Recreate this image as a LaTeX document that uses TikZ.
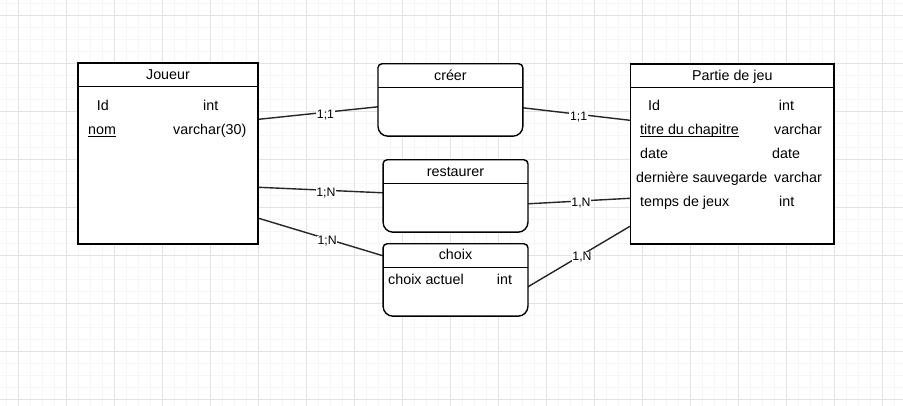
\documentclass[tikz,border=0pt]{standalone}
\usepackage{fontspec}
\setmainfont{Liberation Sans}
\usetikzlibrary{calc}
\newcommand\ulx[1]{\setbox0\hbox{#1}\rlap{\rule[-2.2pt]{\wd0}{0.9pt}}\box0}
\begin{document}
\begin{tikzpicture}[x=1pt,y=-1pt,
  minorgrid/.style={draw=black!3.5, line width=0.8pt},
  majorgrid/.style={draw=black!11, line width=0.9pt},
  entbox/.style={draw=black, line width=1.4pt, fill=white, inner sep=0pt},
  relnode/.style={draw=none, inner sep=0pt, minimum width=144.5pt, minimum height=72pt},
  relbox/.style={draw=black, line width=1.4pt, fill=white},
  hdr/.style={draw=black, line width=1.4pt},
  ttl/.style={anchor=base, inner sep=0pt, font=\fontsize{14.3}{17}\selectfont},
  fld/.style={anchor=base west, inner sep=0pt, font=\fontsize{14.3}{17}\selectfont},
  conn/.style={draw=black!85, line width=1.4pt},
  lbl/.style={fill=white, inner sep=0.6pt, font=\fontsize{12.3}{12}\selectfont, yshift=-2.5pt}
]
\useasboundingbox (0,0) rectangle (903,406);
\fill[white] (0,0) rectangle (903,406);
% grid
\foreach \x in {6,18,...,903} \draw[minorgrid] (\x,0) -- (\x,406);
\foreach \y in {3,15,...,406} \draw[minorgrid] (0,\y) -- (903,\y);
\foreach \x in {18,66,...,903} \draw[majorgrid] (\x,0) -- (\x,406);
\foreach \y in {15,63,...,406} \draw[majorgrid] (0,\y) -- (903,\y);

% relation nodes (outlines drawn below)
\node[relnode] (creer) at (450.4,100) {};
\node[relnode] (rest) at (455.5,196) {};
\node[relnode] (choix) at (455.5,280) {};

% entities
\node[entbox, minimum width=180pt, minimum height=181pt] (joueur) at (168,153.5) {};
\node[entbox, minimum width=203.3pt, minimum height=180pt] (partie) at (732.35,154) {};

% connectors
\draw[conn] ($(joueur.north east)+(0,57)$) -- node[lbl, pos=0.56] (l1) {1;1} ($(creer.north west)+(0,43)$);
\draw[conn] ($(creer.north east)+(0,44)$) -- node[lbl, pos=0.52] (l2) {1;1} ($(partie.north west)+(0,57)$);
\draw[conn] ($(joueur.north east)+(0,125)$) -- node[lbl, pos=0.54] (l3) {1;N} ($(rest.north west)+(0,33)$);
\draw[conn] ($(rest.north east)+(0,44)$) -- node[lbl, pos=0.52] (l4) {1,N} ($(partie.north west)+(0,135)$);
\draw[conn] ($(joueur.north east)+(0,156)$) -- node[lbl, pos=0.55] (l5) {1;N} ($(choix.north west)+(0,12)$);
\draw[conn] ($(choix.north east)+(0,43)$) -- node[lbl, pos=0.53] (l6) {1,N} ($(partie.north west)+(0,163)$);

% relation outlines
\foreach \r in {creer,rest,choix}{
  \draw[relbox] ($(\r.north west)+(0,4)$)
    -- ($(\r.south west)+(0,-10)$) arc[start angle=180,end angle=270,radius=10pt]
    -- ($(\r.south east)+(-10,0)$) arc[start angle=270,end angle=360,radius=10pt]
    -- ($(\r.north east)+(0,4)$) arc[start angle=0,end angle=90,radius=4pt]
    -- ($(\r.north west)+(4,0)$) arc[start angle=90,end angle=180,radius=4pt]
    -- cycle;
  \draw[hdr] ($(\r.north west)+(0,23.5)$) -- ($(\r.north east)+(0,23.5)$);
}
% entity headers
\draw[hdr] ($(joueur.north west)+(0,24.5)$) -- ($(joueur.north east)+(0,24.5)$);
\draw[hdr] ($(partie.north west)+(0,24)$) -- ($(partie.north east)+(0,24)$);

% titles
\node[ttl] (tj) at ($(joueur.north)+(0,17.5)$) {Joueur};
\node[ttl] (tp) at ($(partie.north)+(0,17)$) {Partie de jeu};
\node[ttl] (tc) at ($(creer.north)+(0,17)$) {créer};
\node[ttl] (tr) at ($(rest.north)+(0,16.7)$) {restaurer};
\node[ttl] (tch) at ($(choix.north)+(0,16)$) {choix};

% Joueur fields
\node[fld] (j1a) at (96.7,110.5) {Id};
\node[fld] (j1b) at (203,110.5) {int};
\node[fld] (j2a) at (88,134.5) {\ulx{nom}};
\node[fld] (j2b) at (173,134.5) {varchar(30)};

% Partie fields
\node[fld] (p1a) at (648,110.5) {Id};
\node[fld] (p1b) at (778.7,110.5) {int};
\node[fld] (p2a) at (640,134.5) {\ulx{titre du chapitre}};
\node[fld] (p2b) at (774,134.5) {varchar};
\node[fld] (p3a) at (640,158.5) {date};
\node[fld] (p3b) at (772,158.5) {date};
\node[fld] (p4a) at (636,182.5) {dernière sauvegarde};
\node[fld] (p4b) at (774,182.5) {varchar};
\node[fld] (p5a) at (640,206.5) {temps de jeux};
\node[fld] (p5b) at (779,206.5) {int};

% choix field
\node[fld] (c1a) at (388,284.5) {choix actuel};
\node[fld] (c1b) at (496.7,284.5) {int};
\end{tikzpicture}
\end{document}
